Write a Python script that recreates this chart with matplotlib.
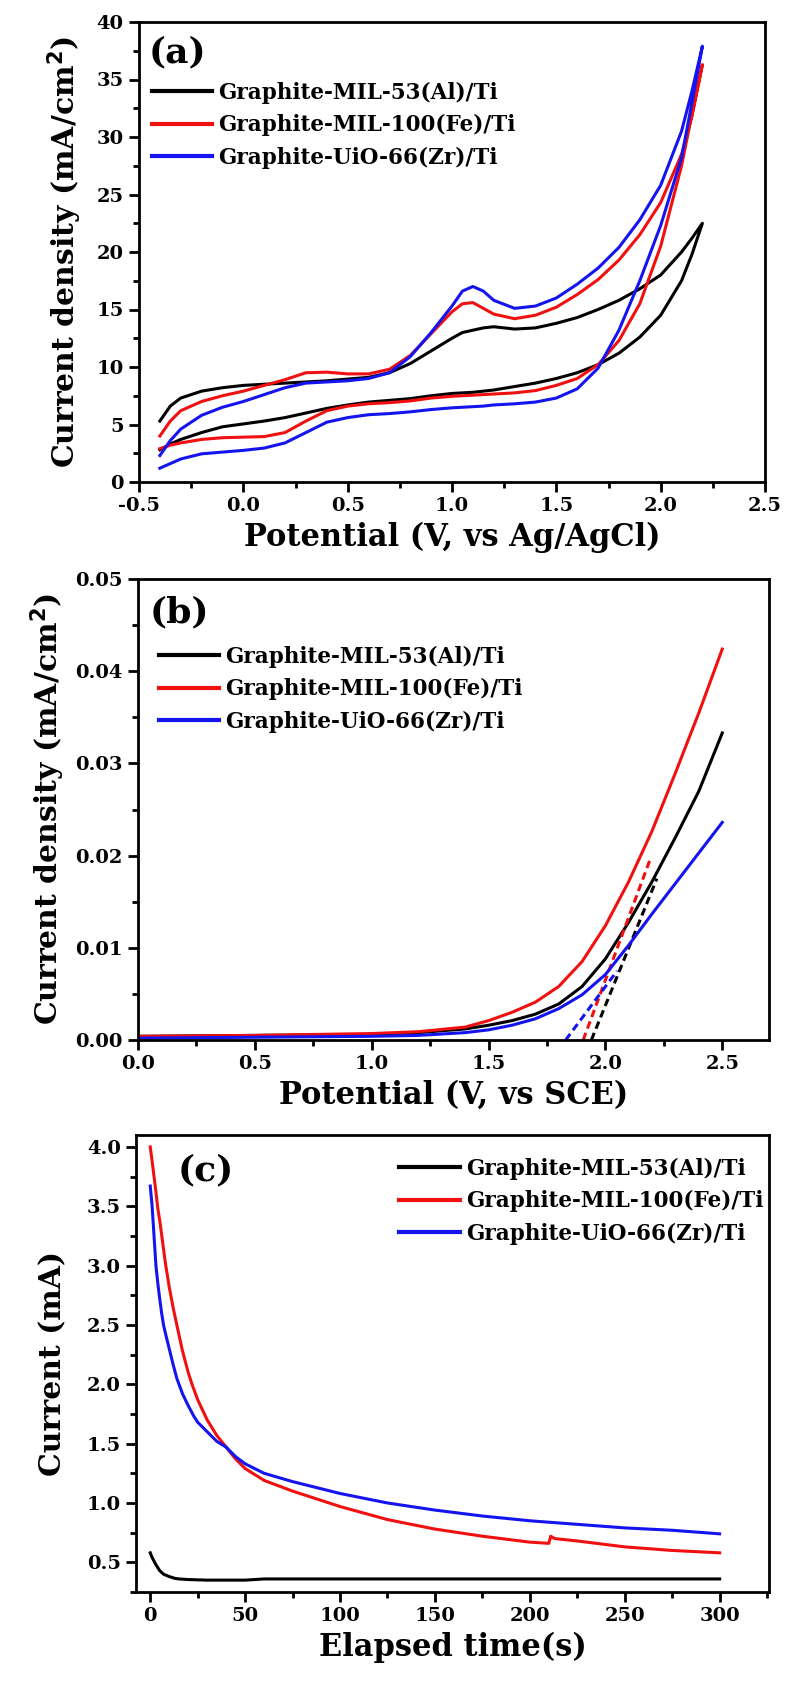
import numpy as np
import matplotlib
matplotlib.use('Agg')
import matplotlib.pyplot as plt
from matplotlib.ticker import MultipleLocator, FormatStrFormatter

plt.rcParams['font.family'] = 'DejaVu Serif'
plt.rcParams['font.weight'] = 'bold'

# ---- data ----
labels = ['Graphite-MIL-53(Al)/Ti', 'Graphite-MIL-100(Fe)/Ti', 'Graphite-UiO-66(Zr)/Ti']
colors = ['#000000', '#f01010', '#1414f0']

# (a) CV, forward scan (lower branch) then reverse (upper branch)
cv_v = [-0.4, -0.35, -0.3, -0.2, -0.1, 0.0, 0.1, 0.2, 0.3, 0.4, 0.5, 0.6, 0.7, 0.8, 0.9, 1.0,
        1.05, 1.1, 1.15, 1.2, 1.3, 1.4, 1.5, 1.6, 1.7, 1.8, 1.9, 2.0, 2.1, 2.15, 2.2]
al_low = [2.8, 3.3, 3.7, 4.3, 4.8, 5.05, 5.3, 5.6, 6.0, 6.4, 6.7, 6.95, 7.1, 7.25, 7.5, 7.7,
          7.75, 7.8, 7.9, 8.0, 8.3, 8.6, 9.0, 9.5, 10.2, 11.2, 12.6, 14.5, 17.5, 19.8, 22.5]
al_up = [5.3, 6.6, 7.3, 7.9, 8.2, 8.4, 8.5, 8.6, 8.7, 8.8, 8.95, 9.1, 9.5, 10.3, 11.4, 12.5,
         13.0, 13.2, 13.4, 13.5, 13.3, 13.4, 13.8, 14.3, 15.0, 15.8, 16.8, 18.0, 20.0, 21.2, 22.5]
fe_low = [2.9, 3.2, 3.4, 3.7, 3.85, 3.9, 3.95, 4.3, 5.3, 6.2, 6.6, 6.8, 6.9, 7.05, 7.3, 7.45,
          7.5, 7.55, 7.6, 7.65, 7.75, 7.95, 8.4, 9.0, 10.2, 12.3, 15.5, 20.5, 27.5, 32.0, 36.3]
fe_up = [4.0, 5.3, 6.2, 7.0, 7.5, 7.9, 8.4, 8.9, 9.5, 9.55, 9.4, 9.4, 9.8, 11.0, 12.9, 14.8,
         15.5, 15.6, 15.1, 14.6, 14.2, 14.5, 15.2, 16.3, 17.6, 19.3, 21.5, 24.3, 28.5, 31.8, 36.3]
zr_low = [1.2, 1.6, 2.0, 2.45, 2.6, 2.75, 2.95, 3.4, 4.3, 5.2, 5.6, 5.85, 5.95, 6.1, 6.3, 6.45,
          6.5, 6.55, 6.6, 6.7, 6.8, 6.95, 7.3, 8.1, 9.9, 13.2, 17.5, 22.3, 28.2, 33.0, 37.9]
zr_up = [2.3, 3.6, 4.6, 5.8, 6.5, 7.0, 7.6, 8.2, 8.6, 8.7, 8.8, 9.0, 9.5, 10.9, 13.0, 15.3,
         16.6, 17.0, 16.6, 15.8, 15.1, 15.3, 16.0, 17.2, 18.6, 20.4, 22.8, 25.8, 30.5, 34.0, 37.9]

# (b) LSV
lsv_v = [0.0, 0.5, 1.0, 1.2, 1.4, 1.5, 1.6, 1.7, 1.8, 1.9, 2.0, 2.1, 2.2, 2.3, 2.4, 2.5]
lsv_al = [0.0004, 0.0005, 0.0006, 0.0008, 0.0012, 0.0016, 0.0021, 0.0028, 0.0039, 0.0058,
          0.0088, 0.0128, 0.0172, 0.0220, 0.0270, 0.0333]
lsv_fe = [0.0004, 0.0005, 0.0007, 0.0009, 0.0014, 0.0021, 0.0030, 0.0041, 0.0058, 0.0085,
          0.0124, 0.0172, 0.0227, 0.0290, 0.0355, 0.0424]
lsv_zr = [0.0002, 0.0003, 0.0004, 0.0005, 0.0008, 0.0011, 0.0016, 0.0023, 0.0034, 0.0049,
          0.0071, 0.0103, 0.0137, 0.0170, 0.0203, 0.0236]
# onset tangent lines (x0, y0, x1, y1)
tan_al = [1.94, 0.0, 2.22, 0.0175]
tan_fe = [1.905, 0.0, 2.19, 0.0195]
tan_zr = [1.83, 0.0, 2.05, 0.0075]

# (c) chronoamperometry
t_al = [0, 1, 2, 3, 4, 5, 7, 10, 13, 15, 20, 30, 50, 60, 100, 200, 300]
i_al = [0.58, 0.54, 0.51, 0.48, 0.455, 0.43, 0.40, 0.38, 0.365, 0.36, 0.355, 0.35, 0.35, 0.36,
        0.36, 0.36, 0.36]
t_fe = [0, 1, 2, 3, 4, 5, 6, 8, 10, 12, 14, 17, 20, 22, 25, 30, 35, 40, 45, 50, 60, 75,
        100, 125, 150, 175, 200, 210, 211, 213, 225, 250, 275, 300]
i_fe = [4.0, 3.88, 3.75, 3.62, 3.48, 3.38, 3.26, 3.02, 2.82, 2.65, 2.5, 2.28, 2.1, 2.0, 1.87,
        1.70, 1.57, 1.47, 1.37, 1.29, 1.19, 1.10, 0.97, 0.86, 0.78, 0.72, 0.67, 0.66, 0.72,
        0.70, 0.68, 0.63, 0.60, 0.58]
t_zr = [0, 1, 2, 3, 4, 5, 6, 7, 8, 10, 12, 14, 17, 20, 23, 25, 30, 35, 40, 45, 50, 60, 75,
        100, 125, 150, 175, 200, 225, 250, 275, 300]
i_zr = [3.67, 3.5, 3.25, 3.0, 2.85, 2.72, 2.6, 2.5, 2.43, 2.3, 2.17, 2.05, 1.92, 1.82, 1.73,
        1.68, 1.60, 1.52, 1.47, 1.39, 1.33, 1.25, 1.18, 1.08, 1.0, 0.94, 0.89, 0.85, 0.82,
        0.79, 0.77, 0.74]

# ---- figure ----
W, H = 786, 1684
fig = plt.figure(figsize=(W / 100, H / 100), dpi=100)

def box(l, t, r, b):
    return [l / W, 1 - b / H, (r - l) / W, (b - t) / H]

ax_a = fig.add_axes(box(139, 22, 765, 482))
ax_b = fig.add_axes(box(138, 579, 769, 1040))
ax_c = fig.add_axes(box(136, 1135, 769, 1592))

lw = 2.2
tick_fs = 14
xlabel_fs = 22
ylabel_fs = 21.5
leg_fs = 15.5

def style(ax):
    for s in ax.spines.values():
        s.set_linewidth(2.0)
    ax.tick_params(which='major', direction='out', length=7.5, width=2, labelsize=tick_fs,
                   top=False, right=False)
    ax.tick_params(which='minor', direction='out', length=4.5, width=2, top=False, right=False)
    for lab in ax.get_xticklabels() + ax.get_yticklabels():
        lab.set_fontweight('bold')

def legend(ax, x, y):
    leg = ax.legend(loc='upper left', bbox_to_anchor=(x, y), frameon=False, fontsize=leg_fs,
                    handlelength=2.8, handletextpad=0.28, labelspacing=0.48,
                    borderaxespad=0, borderpad=0)
    for ln in leg.get_lines():
        ln.set_linewidth(3)

# (a)
cv_x = cv_v + cv_v[::-1]
for low, up, c, lab in zip([al_low, fe_low, zr_low], [al_up, fe_up, zr_up], colors, labels):
    ax_a.plot(cv_x, low + up[::-1], color=c, lw=lw, label=lab)
ax_a.set_xlim(-0.5, 2.5)
ax_a.set_ylim(0, 40)
ax_a.xaxis.set_major_locator(MultipleLocator(0.5))
ax_a.xaxis.set_minor_locator(MultipleLocator(0.25))
ax_a.yaxis.set_major_locator(MultipleLocator(5))
ax_a.yaxis.set_minor_locator(MultipleLocator(2.5))
ax_a.xaxis.set_major_formatter(FormatStrFormatter('%.1f'))
style(ax_a)
ax_a.set_xlabel('Potential (V, vs Ag/AgCl)', fontsize=xlabel_fs, fontweight='bold', labelpad=5)
ax_a.set_ylabel('Current density (mA/cm$^\\mathbf{2}$)', fontsize=ylabel_fs, fontweight='bold', labelpad=9)
ax_a.text(0.015, 0.97, '(a)', transform=ax_a.transAxes, fontsize=26, fontweight='bold', va='top')
legend(ax_a, 0.021, 0.87)

# (b)
for y, tn, c, lab in zip([lsv_al, lsv_fe, lsv_zr], [tan_al, tan_fe, tan_zr], colors, labels):
    ax_b.plot(lsv_v, y, color=c, lw=lw, label=lab)
    ax_b.plot([tn[0], tn[2]], [tn[1], tn[3]], color=c, lw=2.2, ls=(0, (2.5, 1.5)))
ax_b.set_xlim(0, 2.7)
ax_b.set_ylim(0, 0.05)
ax_b.xaxis.set_major_locator(MultipleLocator(0.5))
ax_b.xaxis.set_minor_locator(MultipleLocator(0.25))
ax_b.yaxis.set_major_locator(MultipleLocator(0.01))
ax_b.yaxis.set_minor_locator(MultipleLocator(0.005))
ax_b.xaxis.set_major_formatter(FormatStrFormatter('%.1f'))
ax_b.yaxis.set_major_formatter(FormatStrFormatter('%.2f'))
style(ax_b)
ax_b.set_xlabel('Potential (V, vs SCE)', fontsize=xlabel_fs, fontweight='bold', labelpad=5)
ax_b.set_ylabel('Current density (mA/cm$^\\mathbf{2}$)', fontsize=ylabel_fs, fontweight='bold', labelpad=6)
ax_b.text(0.018, 0.965, '(b)', transform=ax_b.transAxes, fontsize=26, fontweight='bold', va='top')
legend(ax_b, 0.033, 0.855)

# (c)
for t, i, c, lab in zip([t_al, t_fe, t_zr], [i_al, i_fe, i_zr], colors, labels):
    ax_c.plot(t, i, color=c, lw=lw, label=lab)
ax_c.set_xlim(-7.5, 326)
ax_c.set_ylim(0.25, 4.1)
ax_c.xaxis.set_major_locator(MultipleLocator(50))
ax_c.xaxis.set_minor_locator(MultipleLocator(25))
ax_c.yaxis.set_major_locator(MultipleLocator(0.5))
ax_c.yaxis.set_minor_locator(MultipleLocator(0.25))
ax_c.yaxis.set_major_formatter(FormatStrFormatter('%.1f'))
style(ax_c)
ax_c.set_xlabel('Elapsed time(s)', fontsize=xlabel_fs, fontweight='bold', labelpad=5)
ax_c.set_ylabel('Current (mA)', fontsize=ylabel_fs, fontweight='bold', labelpad=14)
ax_c.text(0.066, 0.96, '(c)', transform=ax_c.transAxes, fontsize=26, fontweight='bold', va='top')
legend(ax_c, 0.416, 0.95)

fig.savefig('out.png', dpi=100)
